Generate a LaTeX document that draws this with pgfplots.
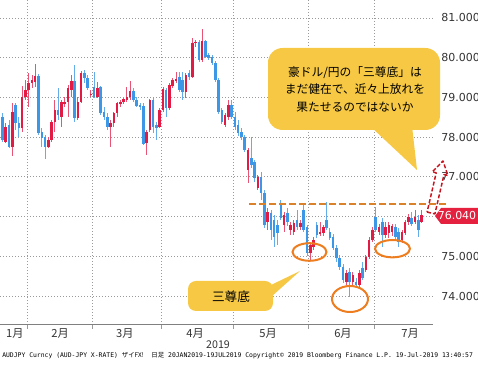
\documentclass[border=0pt]{standalone}
\usepackage{fontspec}
\setmainfont{DejaVu Sans}
\newfontfamily\jp{Noto Sans CJK JP}
\newfontfamily\mono{DejaVu Sans Mono}
\usepackage{graphicx}
\usepackage{pgfplots}
\usepackage{pgfplotstable}
\pgfplotsset{compat=1.18}
\definecolor{upred}{HTML}{E21B45}
\definecolor{dnblue}{HTML}{3C98E6}
\definecolor{bubble}{HTML}{F6C843}
\definecolor{ring}{HTML}{EE7D1F}
\definecolor{resist}{HTML}{D9822B}
\definecolor{tagred}{HTML}{E4213F}
\definecolor{arrowred}{HTML}{C8141E}
\definecolor{gridc}{HTML}{9A9A9A}
\definecolor{labc}{HTML}{333333}

% x = trading day index (0 = 21 Jan 2019), o h l c = open high low close
\pgfplotstableread{
x o h l c
2 77.88 78.35 77.85 78.25
4 77.75 78.86 77.52 78.63
7 78.23 79.29 78.13 79.01
8 79.01 79.44 78.93 79.19
9 79.19 79.61 78.76 79.36
10 79.36 79.56 79.24 79.44
11 79.39 79.84 79.26 79.54
15 77.75 78.00 77.73 77.93
16 77.93 78.43 77.88 78.38
17 78.38 78.93 78.13 78.68
19 78.51 78.93 78.25 78.88
20 78.86 79.01 78.76 78.88
21 78.88 79.31 78.51 79.24
22 79.19 79.56 79.01 79.41
24 78.48 79.01 78.43 78.88
25 78.88 79.67 78.86 79.61
28 79.06 79.19 79.01 79.09
30 79.01 79.39 78.98 79.24
34 78.25 78.43 77.75 78.35
35 78.35 78.63 78.25 78.61
36 78.61 78.88 78.51 78.86
37 78.86 78.93 78.76 78.88
38 78.88 78.98 78.83 78.96
39 78.93 79.26 78.88 79.01
40 79.01 79.41 78.93 79.16
45 77.85 78.18 77.55 78.13
46 78.18 78.96 78.13 78.93
49 78.25 78.73 78.23 78.68
50 78.68 79.26 78.63 79.21
52 78.73 79.36 78.68 79.31
53 79.29 79.49 79.24 79.44
54 79.41 79.64 79.36 79.46
57 79.14 79.61 78.98 79.56
59 79.51 80.50 79.49 80.37
60 80.37 80.45 80.27 80.40
62 79.94 80.72 79.89 80.42
69 78.30 78.61 78.25 78.56
70 78.51 78.93 78.43 78.81
76 77.17 77.73 76.84 77.67
79 76.72 77.05 76.67 76.99
82 75.86 76.21 75.66 76.11
87 75.79 76.11 75.61 76.04
89 75.66 75.86 75.53 75.79
90 75.61 75.91 75.53 75.84
92 75.73 75.91 75.66 75.84
95 75.08 75.33 74.90 75.28
96 75.23 75.48 75.16 75.41
98 75.58 75.86 75.51 75.61
99 75.58 75.79 75.51 75.73
106 74.35 74.65 74.27 74.58
108 74.35 74.60 74.27 74.53
110 74.27 74.65 74.20 74.58
112 74.65 75.03 74.60 74.98
113 74.98 75.48 74.93 75.41
114 75.41 75.73 75.36 75.66
116 75.61 75.81 75.53 75.73
118 75.53 75.86 75.46 75.73
119 75.58 75.86 75.46 75.79
120 75.61 75.81 75.51 75.76
123 75.41 75.66 75.33 75.61
124 75.58 75.91 75.53 75.86
125 75.86 76.06 75.79 75.99
127 75.86 76.16 75.81 75.99
129 75.86 76.16 75.84 76.04
}\upcandles

\pgfplotstableread{
x o h l c
0 78.61 78.86 78.00 78.30
1 78.51 78.61 77.88 77.93
3 78.30 78.43 77.73 77.75
5 78.81 78.86 78.18 78.35
6 78.35 78.51 78.00 78.23
12 79.54 79.59 78.05 78.10
13 78.13 78.23 77.75 77.98
14 78.00 78.05 77.45 77.75
18 78.68 79.24 78.43 78.56
23 79.41 79.82 78.38 78.48
26 79.61 79.69 79.36 79.49
27 79.49 79.56 79.19 79.24
29 79.26 79.64 78.98 79.01
31 79.26 79.29 78.56 78.61
32 78.63 78.76 78.43 78.51
33 78.51 78.61 78.18 78.25
41 79.16 79.24 78.88 78.93
42 78.93 79.01 78.76 78.78
43 78.81 78.86 78.68 78.76
44 78.78 78.86 77.80 77.83
47 78.93 78.98 78.10 78.25
48 78.30 78.38 77.93 78.23
51 79.19 79.24 78.51 78.73
55 79.51 79.64 79.14 79.19
56 79.44 79.64 78.93 79.14
58 79.61 79.69 79.44 79.51
61 80.40 80.45 79.89 79.94
63 80.42 80.45 79.99 80.02
64 80.07 80.12 79.94 79.99
65 80.02 80.07 79.82 79.87
66 79.87 79.92 79.39 79.44
67 79.44 79.49 78.58 78.63
68 78.68 78.73 78.33 78.38
71 78.81 78.93 78.46 78.51
72 78.51 78.63 78.18 78.25
73 78.30 78.43 78.03 78.10
74 78.13 78.23 77.93 78.00
75 78.00 78.05 77.62 77.67
77 77.47 78.00 77.22 77.30
78 77.37 77.42 76.87 76.97
80 76.99 77.12 76.42 76.59
81 76.59 76.67 75.71 75.79
83 76.09 76.16 75.41 75.66
84 75.91 76.04 75.23 75.48
85 75.79 75.91 75.28 75.58
86 76.29 76.42 75.91 75.96
88 76.09 76.21 75.76 75.86
91 75.91 76.16 75.66 75.73
93 76.16 76.29 75.61 75.66
94 75.73 75.79 75.00 75.08
97 75.79 75.86 75.46 75.53
100 75.91 76.37 75.66 75.71
101 75.61 75.71 75.41 75.46
102 75.48 75.56 75.16 75.21
103 75.21 75.28 74.85 74.95
104 74.95 75.03 74.65 74.73
105 74.73 74.80 74.32 74.40
107 74.60 74.70 73.97 74.35
109 74.35 74.45 74.20 74.27
111 74.70 74.85 74.40 74.45
115 75.99 76.24 75.61 75.66
117 75.86 75.96 75.23 75.53
121 75.73 75.81 75.41 75.48
122 75.61 75.71 75.23 75.36
126 75.96 76.11 75.76 75.81
128 75.91 76.04 75.48 75.66
}\downcandles

\begin{document}
\begin{tikzpicture}
\path[use as bounding box] (0pt,-30.75pt) rectangle (358.5pt,243.75pt);
\begin{axis}[
  at={(0pt,0pt)}, anchor=south west,
  scale only axis, width=324.75pt, height=243.75pt,
  xmin=0.24, xmax=132.5, ymin=73.27, ymax=81.453,
  clip=false,
  axis line style={draw=none},
  xtick={8.5,28.5,49.5,71.5,94.5,114.5},
  xticklabels={},
  xtick pos=bottom, tick align=outside,
  major tick length=3pt,
  xtick style={gridc, line width=0.6pt},
  extra x ticks={4.8,18.6,38.4,59.8,82.1,105,125.5},
  extra x tick labels={1月,2月,3月,4月,5月,6月,7月},
  extra x tick style={grid=none, major tick length=0pt},
  xticklabel style={font=\jp\fontsize{8.4}{9}\selectfont, text=labc, anchor=north, inner sep=0pt, yshift=-2.2pt},
  ytick={74,75,76,77,78,79,80,81},
  yticklabels={74.000,75.000,,77.000,78.000,79.000,80.000,81.000},
  yticklabel pos=right,
  ytick style={draw=none},
  yticklabel style={font=\fontsize{8.25}{9}\selectfont, text=labc, anchor=west, inner sep=0pt, xshift=3pt},
  xmajorgrids, ymajorgrids,
  grid style={gridc, line width=0.6pt, dash pattern=on 0.75pt off 1.5pt},
]
\draw[gray, line width=0.75pt] (rel axis cs:0,0) -- (rel axis cs:1,0);
% wicks
\addplot[draw=none, forget plot, error bars/.cd, y dir=both, y explicit, error mark=none,
  error bar style={draw=dnblue!80, line width=0.6pt, solid}]
  table[x=x, y expr={(\thisrow{h}+\thisrow{l})/2}, y error expr={(\thisrow{h}-\thisrow{l})/2}] {\downcandles};
\addplot[draw=none, forget plot, error bars/.cd, y dir=both, y explicit, error mark=none,
  error bar style={draw=upred!75, line width=0.6pt, solid}]
  table[x=x, y expr={(\thisrow{h}+\thisrow{l})/2}, y error expr={(\thisrow{h}-\thisrow{l})/2}] {\upcandles};
% bodies
\addplot[draw=none, forget plot, error bars/.cd, y dir=both, y explicit, error mark=none,
  error bar style={draw=dnblue, line width=1.9pt, solid}]
  table[x=x, y expr={(\thisrow{o}+\thisrow{c})/2}, y error expr={max(abs(\thisrow{c}-\thisrow{o})/2,0.012)}] {\downcandles};
\addplot[draw=none, forget plot, error bars/.cd, y dir=both, y explicit, error mark=none,
  error bar style={draw=upred, line width=1.9pt, solid}]
  table[x=x, y expr={(\thisrow{o}+\thisrow{c})/2}, y error expr={max(abs(\thisrow{c}-\thisrow{o})/2,0.012)}] {\upcandles};
% resistance line
\addplot[resist, line width=1.5pt, dash pattern=on 5pt off 2.5pt, forget plot] coordinates {(76.3,76.32) (136.8,76.32)};
\end{axis}

\begin{scope}[x=0.75pt, y=-0.75pt, shift={(0pt,243.75pt)}]
% circles around the three bottoms
\draw[ring, line width=1.5pt] (309.5,252) ellipse [x radius=12.75pt, y radius=6.6pt];
\draw[ring, line width=1.5pt] (350,299) ellipse [x radius=13.5pt, y radius=9.75pt];
\draw[ring, line width=1.5pt] (392.5,248.7) ellipse [x radius=13.1pt, y radius=6.5pt];
% big callout
\fill[bubble, rounded corners=11pt] (268,48) rectangle (440,130);
\fill[bubble] (370,126) -- (412,126) -- (417,170) -- cycle;
\node[font=\jp\fontsize{8.8}{13.1}\selectfont, align=center, text=black] at (355,89.5)
  {豪ドル/円の「三尊底」は\\まだ健在で、近々上放れを\\果たせるのではないか};
% small callout
\fill[bubble, rounded corners=6pt] (188,281) rectangle (273,311);
\fill[bubble] (271,285) -- (300,271) -- (271,297) -- cycle;
\node[font=\jp\fontsize{9.5}{11}\selectfont, text=black] at (231,296.5) {三尊底};
% price tag
\fill[tagred] (435,216) -- (441,208) -- (478,208) -- (478,224) -- (441,224) -- cycle;
\node[text=white, font=\fontsize{8.25}{9}\selectfont] at (457,216) {76.040};
% dashed arrow
\draw[arrowred, line width=1.1pt, dash pattern=on 3pt off 1.5pt, line join=round]
  (427.1,212.1) -- (434.9,213.9) -- (444.0,174.6) -- (447.9,175.5) -- (443,161)
  -- (432.3,171.9) -- (436.2,172.8) -- cycle;
% year and footer
\node[font=\jp\fontsize{8}{9}\selectfont, text=labc] at (218,345) {2019};
\node[anchor=west, inner sep=0pt] at (2,355.5) {\resizebox{353pt}{!}{\mono AUDJPY Curncy (AUD-JPY X-RATE) {\jp ザイFX!}\ \ {\jp 日足} 20JAN2019-19JUL2019 Copyright© 2019 Bloomberg Finance L.P. 19-Jul-2019 13:40:57}};
\end{scope}
\end{tikzpicture}
\end{document}
